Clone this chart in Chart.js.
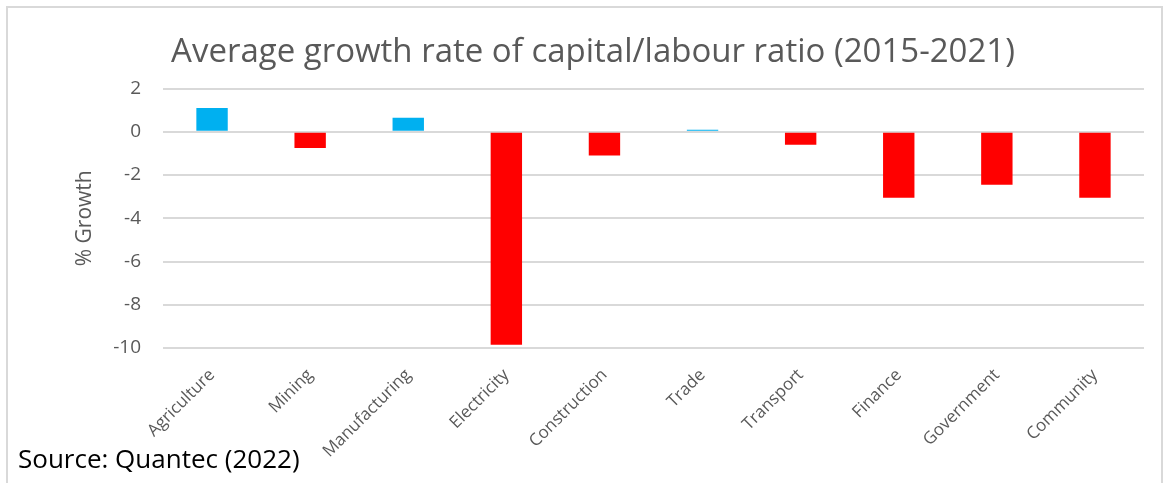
<!DOCTYPE html>
<html>
<head>
<meta charset="utf-8">
<script src="https://cdn.jsdelivr.net/npm/chart.js@4/dist/chart.umd.min.js"></script>
<style>
    body { margin: 0; background: #fff; }
    #wrap { position: relative; width: 1170px; height: 483px; }
    #frame { position: absolute; left: 6px; top: 6px; width: 1157px; height: 490px; border: 2px solid #d9d9d9; box-sizing: border-box; }
    #source { position: absolute; left: 18px; top: 440px; font: 26px "Open Sans", sans-serif; color: #000; white-space: nowrap; }
    canvas { position: absolute; left: 0; top: 0; }
</style>
</head>
<body>
<div id="wrap">
    <div id="frame"></div>
    <canvas id="chart" width="1170" height="483"></canvas>
    <div id="source">Source: Quantec (2022)</div>
</div>
<script>
const sectors = ['Agriculture', 'Mining', 'Manufacturing', 'Electricity', 'Construction', 'Trade', 'Transport', 'Finance', 'Government', 'Community'];
const growth = [1.1, -0.75, 0.65, -9.85, -1.1, 0.1, -0.6, -3.05, -2.45, -3.05];
const yTicks = [2, 0, -2, -4, -6, -8, -10];

const blue = '#00b0f0';
const red = '#ff0000';
const grey = '#595959';

new Chart(document.getElementById('chart'), {
    type: 'bar',
    data: {
        labels: sectors,
        datasets: [{
            data: growth,
            backgroundColor: growth.map(v => v >= 0 ? blue : red),
            barPercentage: 0.32,
            categoryPercentage: 1
        }]
    },
    options: {
        responsive: false,
        animation: false,
        // left/right padding chosen so the title centres where the original did
        layout: { padding: { left: 42, right: 26, top: 0, bottom: 0 } },
        plugins: {
            legend: { display: false },
            tooltip: { enabled: false },
            title: {
                display: true,
                text: 'Average growth rate of capital/labour ratio (2015-2021)',
                color: grey,
                font: { family: 'Open Sans', size: 33, weight: 'normal', lineHeight: 1.2 },
                padding: { top: 33, bottom: 16 }
            }
        },
        scales: {
            x: {
                grid: { display: false },
                border: { display: false },
                ticks: {
                    color: grey,
                    font: { family: 'Open Sans', size: 17 },
                    minRotation: 45,
                    maxRotation: 45,
                    padding: 9
                },
                afterFit: s => { s.height = 135; }
            },
            y: {
                min: -10,
                max: 2,
                afterBuildTicks: s => { s.ticks = yTicks.map(v => ({ value: v })); },
                grid: { color: '#d9d9d9', lineWidth: 2, drawTicks: false },
                border: { display: false },
                ticks: {
                    color: grey,
                    font: { family: 'Open Sans', size: 19 },
                    padding: 22
                },
                title: {
                    display: true,
                    text: '% Growth',
                    color: grey,
                    font: { family: 'Open Sans', size: 21 },
                    padding: { top: 30, bottom: 0 }
                },
                afterFit: s => { s.width = 121; }
            }
        }
    }
});
</script>
</body>
</html>
